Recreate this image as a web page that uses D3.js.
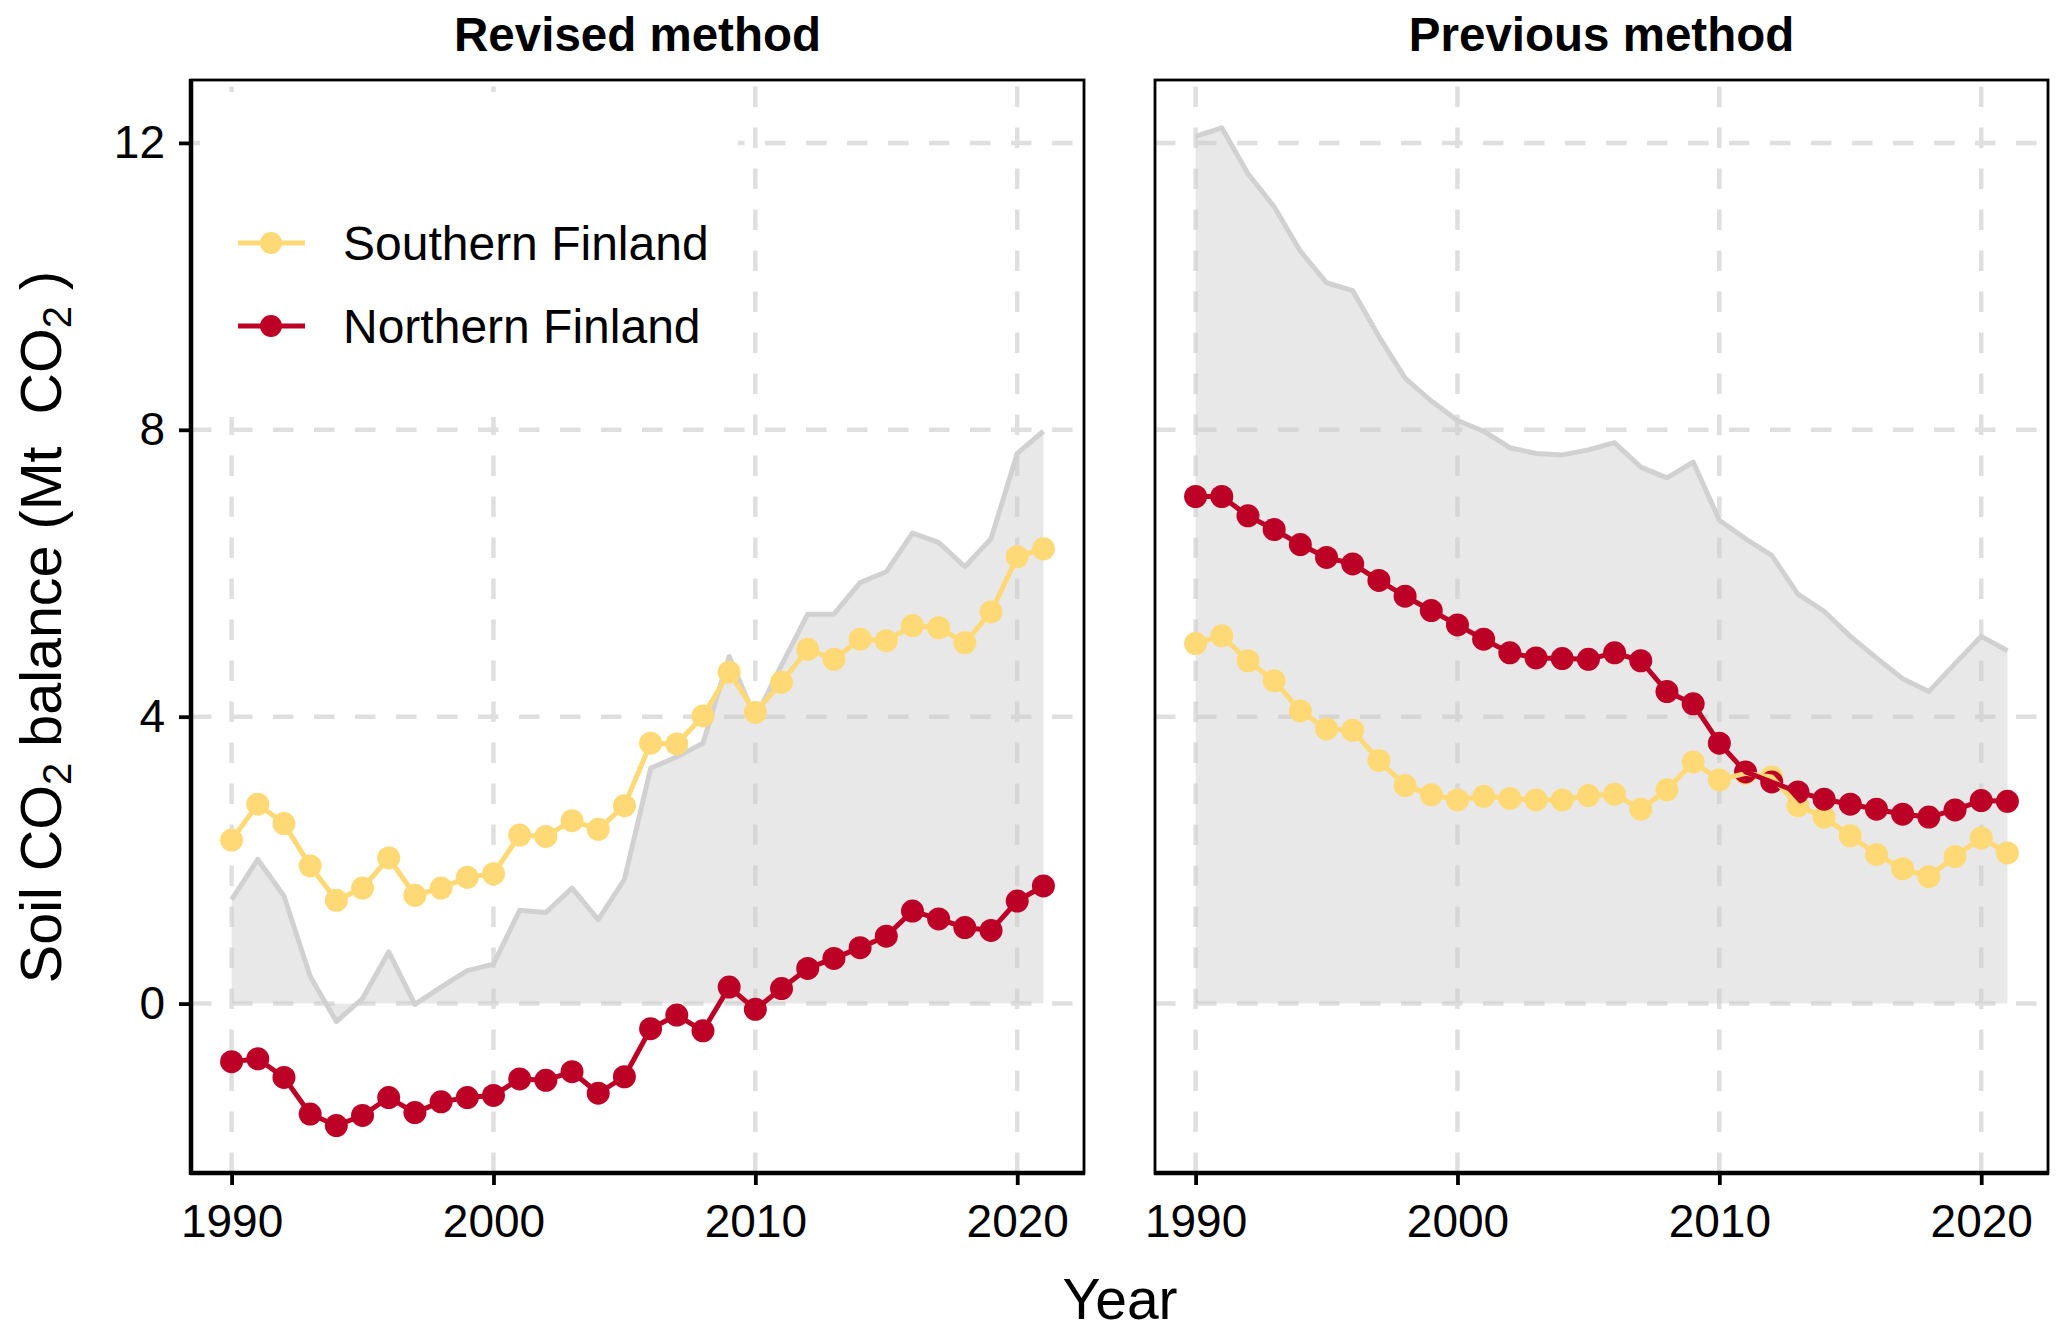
<!DOCTYPE html>
<html>
<head>
<meta charset="utf-8">
<script src="https://cdn.jsdelivr.net/npm/d3@7/dist/d3.min.js"></script>
<style>
  html, body { margin: 0; padding: 0; background: #ffffff; }
  svg { display: block; }
  text { font-family: "Liberation Sans", Arial, Helvetica, sans-serif; }
</style>
</head>
<body>
<svg id="chart" width="2067" height="1336"></svg>
<script>
// ---------------- data ----------------
const years = [1990,1991,1992,1993,1994,1995,1996,1997,1998,1999,2000,2001,2002,2003,2004,2005,
               2006,2007,2008,2009,2010,2011,2012,2013,2014,2015,2016,2017,2018,2019,2020,2021];

const panelTitles = ["Revised method", "Previous method"];
const seriesNames = ["Southern Finland", "Northern Finland"];

const revisedSouth = [2.28,2.78,2.51,1.92,1.44,1.61,2.03,1.51,1.61,1.76,1.81,2.35,2.33,2.55,2.43,2.76,
                      3.63,3.62,4.01,4.62,4.06,4.48,4.94,4.80,5.08,5.06,5.27,5.24,5.03,5.46,6.23,6.34];
const revisedNorth = [-0.81,-0.77,-1.03,-1.54,-1.70,-1.56,-1.31,-1.52,-1.37,-1.31,-1.28,-1.05,-1.07,-0.95,-1.25,-1.02,
                      -0.35,-0.16,-0.38,0.23,-0.08,0.21,0.49,0.63,0.78,0.94,1.29,1.18,1.06,1.02,1.43,1.64];
const revisedTotal = [1.45,2.01,1.50,0.38,-0.25,0.07,0.72,-0.01,0.23,0.46,0.55,1.30,1.27,1.61,1.17,1.73,
                      3.28,3.44,3.63,4.84,3.98,4.72,5.43,5.43,5.87,6.02,6.56,6.43,6.09,6.48,7.67,7.98];

const previousSouth = [5.02,5.13,4.78,4.50,4.08,3.83,3.81,3.39,3.04,2.91,2.84,2.89,2.86,2.84,2.84,2.90,
                       2.92,2.71,2.98,3.37,3.12,3.21,3.16,2.76,2.60,2.34,2.08,1.88,1.77,2.05,2.31,2.10];
const previousNorth = [7.07,7.07,6.80,6.61,6.40,6.22,6.13,5.90,5.68,5.48,5.28,5.08,4.89,4.82,4.81,4.80,
                       4.89,4.78,4.35,4.18,3.63,3.23,3.09,2.95,2.85,2.78,2.71,2.64,2.60,2.70,2.83,2.82];
const previousTotal = [12.09,12.21,11.57,11.11,10.49,10.05,9.94,9.30,8.72,8.40,8.13,7.98,7.75,7.67,7.65,7.72,
                       7.82,7.48,7.33,7.55,6.74,6.48,6.25,5.71,5.47,5.12,4.82,4.53,4.35,4.74,5.12,4.92];

const xTickValues = [1990, 2000, 2010, 2020];
const yTickValues = [0, 4, 8, 12];

// ---------------- layout / style ----------------
const svg = d3.select("#chart");
const TOP = 80, BOTTOM = 1173;
const panelX = [[191, 1084], [1155, 2048]];
const colors = { south: "#FED976", north: "#BD0026" };
const GRID = "#DFDFDF";
const FONT_TICK = 46;
const FONT_FAMILY = '"Liberation Sans", Arial, Helvetica, sans-serif';

const y = d3.scaleLinear().domain([-2.362, 12.877]).range([BOTTOM, TOP]);

const panels = [
  { title: panelTitles[0], south: revisedSouth, north: revisedNorth, total: revisedTotal, yAxis: true, legend: true },
  { title: panelTitles[1], south: previousSouth, north: previousNorth, total: previousTotal, yAxis: false, legend: false }
];

function zipSeries(vals) { return years.map((yr, i) => ({ year: yr, v: vals[i] })); }

panels.forEach((p, pi) => {
  const [x0, x1] = panelX[pi];
  const x = d3.scaleLinear().domain([1988.45, 2022.55]).range([x0, x1]);
  const g = svg.append("g");

  g.append("rect").attr("x", x0).attr("y", TOP).attr("width", x1 - x0).attr("height", BOTTOM - TOP)
    .attr("fill", "#ffffff");

  // grid
  g.selectAll(".hgrid").data(yTickValues).enter().append("line")
    .attr("x1", x0).attr("x2", x1).attr("y1", d => y(d)).attr("y2", d => y(d))
    .attr("stroke", GRID).attr("stroke-width", 4.5).attr("stroke-dasharray", "20.5 20.5");
  g.selectAll(".vgrid").data(xTickValues).enter().append("line")
    .attr("x1", d => x(d)).attr("x2", d => x(d)).attr("y1", BOTTOM).attr("y2", TOP)
    .attr("stroke", GRID).attr("stroke-width", 4.5).attr("stroke-dasharray", "20.5 20.5");

  // total area
  const tot = zipSeries(p.total);
  g.append("path").datum(tot)
    .attr("d", d3.area().x(d => x(d.year)).y0(y(0)).y1(d => y(d.v)))
    .attr("fill", "#CCCCCC").attr("fill-opacity", 0.45);
  g.append("path").datum(tot)
    .attr("d", d3.line().x(d => x(d.year)).y(d => y(d.v)))
    .attr("fill", "none").attr("stroke", "#D1D1D1").attr("stroke-width", 5)
    .attr("stroke-linejoin", "round");

  // legend
  if (p.legend) {
    const lg = g.append("g");
    lg.append("rect").attr("x", 200).attr("y", 92).attr("width", 538).attr("height", 325).attr("fill", "#ffffff");
    const items = [{ name: seriesNames[0], c: colors.south, cy: 243 }, { name: seriesNames[1], c: colors.north, cy: 326 }];
    items.forEach(it => {
      lg.append("line").attr("x1", 238).attr("x2", 305).attr("y1", it.cy).attr("y2", it.cy)
        .attr("stroke", it.c).attr("stroke-width", 5);
      lg.append("circle").attr("cx", 271).attr("cy", it.cy).attr("r", 11).attr("fill", it.c);
      lg.append("text").attr("x", 343).attr("y", it.cy).attr("dy", "0.36em")
        .attr("font-size", 48).attr("fill", "#000").text(it.name);
    });
  }

  // series: points first, then lines
  const series = [{ d: zipSeries(p.south), c: colors.south }, { d: zipSeries(p.north), c: colors.north }];
  series.forEach(s => {
    g.append("g").selectAll("circle").data(s.d).enter().append("circle")
      .attr("cx", d => x(d.year)).attr("cy", d => y(d.v)).attr("r", 11.5).attr("fill", s.c);
  });
  series.forEach(s => {
    g.append("path").datum(s.d)
      .attr("d", d3.line().x(d => x(d.year)).y(d => y(d.v)))
      .attr("fill", "none").attr("stroke", s.c).attr("stroke-width", 5).attr("stroke-linejoin", "round");
  });

  // border
  g.append("rect").attr("x", x0).attr("y", TOP).attr("width", x1 - x0).attr("height", BOTTOM - TOP)
    .attr("fill", "none").attr("stroke", "#000").attr("stroke-width", 2.8);

  // x axis
  const xa = g.append("g").attr("transform", `translate(0,${BOTTOM})`)
    .call(d3.axisBottom(x).tickValues(xTickValues).tickFormat(d3.format("d")).tickSize(12).tickPadding(19));
  xa.select(".domain").remove();
  xa.selectAll(".tick line").attr("stroke", "#000").attr("stroke-width", 3.8);
  xa.selectAll(".tick text").attr("font-size", FONT_TICK).attr("fill", "#000").attr("font-family", FONT_FAMILY);
  g.append("line").attr("x1", x0 - 1).attr("x2", x1 + 1).attr("y1", BOTTOM).attr("y2", BOTTOM)
    .attr("stroke", "#000").attr("stroke-width", 4.5);

  // y axis
  if (p.yAxis) {
    const ya = g.append("g").attr("transform", `translate(${x0},0)`)
      .call(d3.axisLeft(y).tickValues(yTickValues).tickFormat(d3.format("d")).tickSize(12).tickPadding(14));
    ya.select(".domain").remove();
    ya.selectAll(".tick line").attr("stroke", "#000").attr("stroke-width", 3.8);
    ya.selectAll(".tick text").attr("font-size", FONT_TICK).attr("fill", "#000").attr("font-family", FONT_FAMILY);
    g.append("line").attr("x1", x0).attr("x2", x0).attr("y1", TOP - 1).attr("y2", BOTTOM + 2)
      .attr("stroke", "#000").attr("stroke-width", 4.5);
  }

  // facet title
  svg.append("text").attr("x", (x0 + x1) / 2).attr("y", 51).attr("text-anchor", "middle")
    .attr("font-size", 47.5).attr("font-weight", "bold").attr("fill", "#000").text(p.title);
});

// axis titles
svg.append("text").attr("x", 1120).attr("y", 1319).attr("text-anchor", "middle")
  .attr("font-size", 57).attr("fill", "#000").text("Year");

const yt = svg.append("text").attr("transform", "translate(61,627) rotate(-90)")
  .attr("text-anchor", "middle").attr("font-size", 57.5).attr("fill", "#000")
  .style("white-space", "pre");
yt.append("tspan").text("Soil CO");
yt.append("tspan").attr("font-size", 40).attr("dy", 10).text("2");
yt.append("tspan").attr("dy", -10).text(" balance (Mt  CO");
yt.append("tspan").attr("font-size", 40).attr("dy", 10).text("2");
yt.append("tspan").attr("dy", -10).text(" )");
</script>
</body>
</html>
